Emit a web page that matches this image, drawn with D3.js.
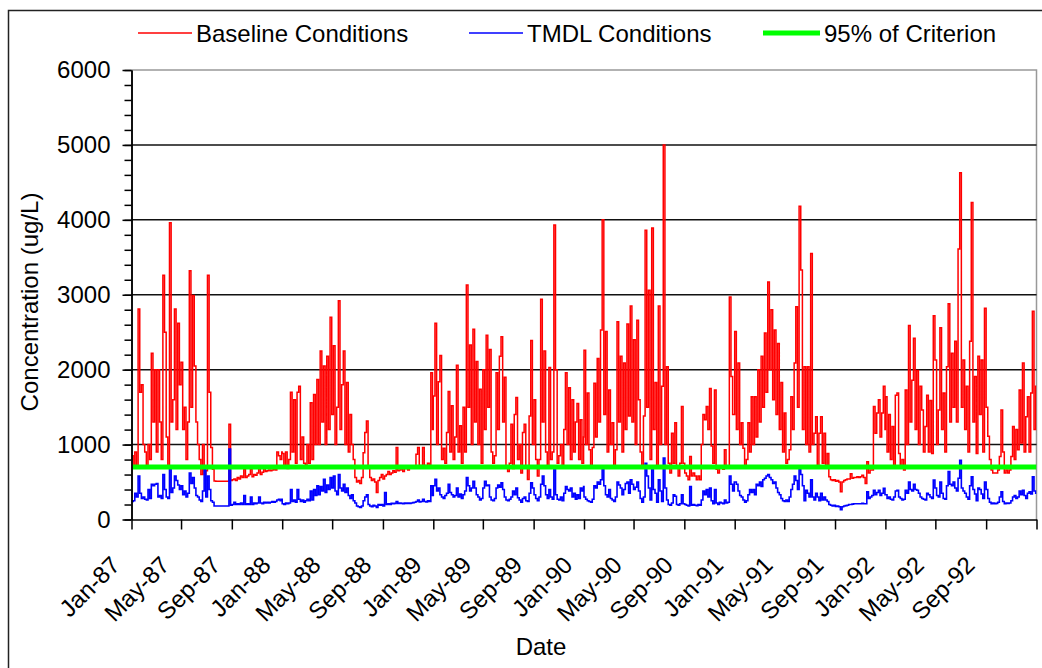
<!DOCTYPE html>
<html>
<head>
<meta charset="utf-8">
<script src="https://cdn.jsdelivr.net/npm/d3@7"></script>
<style>
  body { margin: 0; background: #fff; }
  text { font-family: "Liberation Sans", Arial, sans-serif; fill: #000; }
</style>
</head>
<body>
<svg id="chart" width="1042" height="668"></svg>
<script>
// Values sampled every 4 days from Jan 1 of each year (ug/L)
var stepDays = 4;
var years = [1987, 1988, 1989, 1990, 1991, 1992];

var baseline1987 = [850,700,900,700,2810,1700,1800,1000,900,700,1000,800,2220,1300,2000,900,2000,1300,800,3260,
  2500,1100,700,3960,1300,1600,2810,1200,2620,1800,2100,1200,1500,800,1300,3320,1500,2990,2050,1300,
  1000,800,600,1000,600,650,3260,1700,960,670,513,510,510,510,510,510,510,510,510,1270,
  520,530,540,520,560,540,580,560,670,560,580,600,670,570,600,590,620,680,600,630,
  690,640,650,660,650,660,670,660,900,850,800,900];
var baseline1988 = [880,700,900,680,800,1700,900,1600,750,1700,1780,800,1100,750,700,1000,750,1560,800,1670,
  1000,1870,1000,2250,1300,2050,1000,2180,1200,2700,1400,2320,1000,1500,2920,1200,1800,2250,1000,1830,
  900,1400,1000,800,560,500,520,480,560,890,1160,1315,700,560,520,540,500,360,520,560,
  600,540,580,600,640,600,620,650,630,960,650,660,680,640,700,680,660,700,690,700,
  700,870,960,720,700,960,720,700,750,700,1960,1200];
var baseline1989 = [1650,2620,1000,1840,2190,800,950,750,1160,1710,900,1520,800,1100,2060,900,1250,750,1500,900,
  3130,1500,2330,1000,2540,1300,2110,1000,1740,750,2000,1200,2460,1500,2270,900,750,850,1960,1200,
  2180,2440,1300,1900,700,640,750,1270,680,1400,1630,800,1000,620,1160,1270,700,535,1380,2390,
  1000,1600,800,580,800,2940,1300,2250,900,700,2030,800,900,3930,2000,750,850,1000,700,1200,
  1960,1000,1760,800,1600,900,1300,1550,800,1330,750,1100];
var baseline1990 = [2260,1000,1690,930,700,960,1820,1100,2150,1300,2530,4000,1400,2510,900,1730,1000,1290,700,930,
  2640,1300,2180,900,2090,1200,2610,1380,2850,1300,2400,1000,2660,1600,900,700,1380,3860,1500,3060,
  800,3890,1200,1830,700,2850,1000,1780,5000,1000,2040,750,620,1150,750,1290,700,580,750,1510,
  750,620,580,530,840,580,620,580,530,580,530,1000,1400,1330,1510,1200,1750,980,750,1730,
  670,620,700,700,670,930,700,700,2970,1910,1400,1400];
var baseline1991 = [2510,1200,2090,1000,1290,950,700,800,1290,900,1640,1000,1640,1100,2000,1300,2180,1500,2490,1700,
  3170,2000,2800,1600,2530,1400,2350,1200,1830,900,1420,750,800,930,1640,1200,2090,2840,1500,4180,
  3330,1200,2040,1000,2040,900,3550,1000,1150,1370,700,1150,1370,750,1150,700,880,570,530,520,
  530,510,520,500,370,500,520,530,540,540,610,550,560,560,570,560,570,590,560,480,
  770,620,660,660,1510,1150,1420,1600,1100,1420,1780,1200];
var baseline1992 = [1640,900,1400,800,1240,700,1660,1690,880,700,800,660,1730,1000,2590,1300,1860,2420,1200,1990,
  1000,1780,1460,900,1240,1660,900,1590,880,2720,2130,1000,1460,2560,1200,1690,900,2040,2880,1300,
  2220,1500,2380,1300,3610,4630,1500,2130,1200,1780,900,2380,4230,1300,1910,880,2180,1400,2130,900,
  2820,1500,1110,800,660,620,620,620,660,840,1460,900,620,660,620,660,840,1240,800,1200,
  930,1730,1020,2090,900,1370,1640,900,1690,2780,1200,1780];

var tmdl1987 = [240,250,350,300,580,350,280,300,270,260,400,280,470,450,470,480,300,320,280,600,
  400,300,280,670,360,420,580,520,460,400,450,330,380,300,350,620,480,560,420,320,
  300,260,240,380,670,300,580,400,250,230,180,180,180,180,180,180,180,180,180,940,
  190,200,230,200,210,200,220,200,320,200,210,200,300,200,220,210,220,300,220,210,
  230,220,230,220,230,240,230,240,260,270,250,270];
var tmdl1988 = [210,200,220,210,220,400,240,260,230,400,270,240,260,230,250,270,250,380,260,400,
  320,450,330,440,380,535,360,460,400,560,420,580,380,330,600,420,380,470,360,420,
  320,280,330,250,220,180,170,160,180,250,300,330,200,180,170,190,180,160,200,190,
  200,180,360,200,210,200,215,210,215,240,215,220,215,210,220,215,220,215,220,225,
  230,240,260,235,240,270,240,235,250,240,450,320];
var tmdl1989 = [450,535,380,420,330,300,280,320,350,470,360,330,300,320,420,300,340,280,330,380,
  560,450,380,420,510,420,330,300,260,280,420,510,450,460,300,260,250,280,420,460,
  430,490,400,300,260,250,270,300,380,330,420,290,260,230,280,300,250,240,350,490,
  420,330,280,250,300,470,580,450,330,280,400,300,270,670,330,270,260,300,250,350,
  440,400,380,420,300,350,270,330,280,420,380,440];
var tmdl1990 = [300,270,250,240,230,270,450,420,500,470,530,670,450,330,300,400,280,260,240,300,
  500,460,420,330,400,480,500,350,530,470,400,430,500,380,280,230,300,750,580,420,
  260,670,400,350,230,530,380,240,820,420,260,200,190,220,330,310,200,190,210,330,
  210,200,190,180,440,190,200,190,185,200,190,260,380,330,400,300,420,250,210,400,
  220,200,230,220,210,260,220,230,580,470,380,500];
var tmdl1991 = [500,470,380,320,300,260,230,250,330,400,360,400,330,470,450,500,440,530,550,580,
  600,560,530,480,500,420,360,330,280,250,240,260,240,300,400,470,580,520,400,670,
  600,450,250,390,350,300,530,300,260,350,300,250,350,260,300,260,240,200,190,180,
  190,175,180,170,130,170,180,185,190,200,200,205,210,210,210,210,210,215,210,210,
  370,280,300,320,390,330,360,390,320,350,415,330];
var tmdl1992 = [330,280,300,270,260,300,380,390,300,280,260,270,390,350,500,400,380,470,400,390,
  350,300,280,270,260,350,330,300,280,525,420,320,300,500,350,280,270,450,640,470,
  450,500,420,380,550,790,420,380,350,300,270,450,570,400,340,250,420,400,340,280,
  500,400,280,230,210,220,210,215,230,300,370,240,210,220,215,220,250,300,320,280,
  300,380,330,390,320,280,350,370,340,570,380,350];

var criterionLevel = 700;
var yMajorTicks = [0, 1000, 2000, 3000, 4000, 5000, 6000];
var legendNames = ["Baseline Conditions", "TMDL Conditions", "95% of Criterion"];
var legendColors = ["#ff0000", "#0000ff", "#00ff00"];

var baselineByYear = [baseline1987, baseline1988, baseline1989, baseline1990, baseline1991, baseline1992];
var tmdlByYear = [tmdl1987, tmdl1988, tmdl1989, tmdl1990, tmdl1991, tmdl1992];

var startDate = new Date(Date.UTC(1987, 0, 1));
var endDate = new Date(Date.UTC(1993, 0, 1));

// turn the yearly arrays into date/value points
function toPoints(byYear) {
  var pts = [];
  byYear.forEach(function(vals, k) {
    vals.forEach(function(v, i) {
      pts.push({date: new Date(Date.UTC(years[k], 0, 1 + i * stepDays)), value: v});
    });
  });
  pts.push({date: endDate, value: pts[pts.length - 1].value});
  return pts;
}
var baseline = toPoints(baselineByYear);
var tmdl = toPoints(tmdlByYear);

var svg = d3.select('#chart');
var plotLeft = 131.5, plotRight = 1036.5, plotTop = 70, plotBottom = 519.5;

var x = d3.scaleUtc().domain([startDate, endDate]).range([plotLeft, plotRight]);
var y = d3.scaleLinear().domain([0, 6000]).range([plotBottom, plotTop]);

// outer frame
svg.append('rect')
  .attr('x', 8.5).attr('y', 10.5).attr('width', 1045).attr('height', 670)
  .attr('fill', 'none').attr('stroke', '#222').attr('stroke-width', 1.5);

// plot border (grey top and right)
svg.append('path')
  .attr('d', `M${plotLeft},${plotTop}H${plotRight}V${plotBottom}`)
  .attr('fill', 'none').attr('stroke', '#999').attr('stroke-width', 1.5);

// horizontal gridlines
svg.append('g').selectAll('line')
  .data(yMajorTicks.filter(function(d) { return d > 0 && d < 6000; }))
  .enter().append('line')
  .attr('x1', plotLeft).attr('x2', plotRight)
  .attr('y1', function(d) { return y(d); }).attr('y2', function(d) { return y(d); })
  .attr('stroke', '#111').attr('stroke-width', 1.5);

// series
var clip = svg.append('clipPath').attr('id', 'plotclip');
clip.append('rect').attr('x', plotLeft).attr('y', plotTop)
  .attr('width', plotRight - plotLeft).attr('height', plotBottom - plotTop);

var line = d3.line()
  .x(function(d) { return x(d.date); })
  .y(function(d) { return y(d.value); })
  .curve(d3.curveStepAfter);

var plot = svg.append('g').attr('clip-path', 'url(#plotclip)');
plot.append('path').datum(baseline)
  .attr('d', line).attr('fill', 'none').attr('stroke', legendColors[0]).attr('stroke-width', 1.5);
plot.append('path').datum(tmdl)
  .attr('d', line).attr('fill', 'none').attr('stroke', legendColors[1]).attr('stroke-width', 1.6);
plot.append('line')
  .attr('x1', plotLeft).attr('x2', plotRight)
  .attr('y1', y(criterionLevel)).attr('y2', y(criterionLevel))
  .attr('stroke', legendColors[2]).attr('stroke-width', 5);

// y axis: minor ticks then major ticks with labels
var yMinor = svg.append('g').attr('transform', `translate(${plotLeft},0)`)
  .call(d3.axisLeft(y).tickValues(d3.range(0, 6001, 200)).tickSize(7).tickSizeOuter(0).tickFormat(''));
var yAxis = svg.append('g').attr('transform', `translate(${plotLeft},0)`)
  .call(d3.axisLeft(y).tickValues(yMajorTicks).tickSize(9).tickSizeOuter(0).tickPadding(12).tickFormat(d3.format('d')));
[yMinor, yAxis].forEach(function(g) {
  g.selectAll('line').attr('stroke', '#000').attr('stroke-width', 1.5);
  g.select('.domain').attr('stroke', '#000').attr('stroke-width', 1.5);
});
yAxis.selectAll('text').style('font-size', '24px').attr('fill', '#000')
  .style('font-family', '"Liberation Sans", Arial, sans-serif');

// x axis: ticks every 4 months
var xTicks = x.ticks(d3.utcMonth.every(4));
var xAxis = svg.append('g').attr('transform', `translate(0,${plotBottom})`)
  .call(d3.axisBottom(x).tickValues(xTicks).tickSize(10).tickSizeOuter(0).tickFormat(''));
xAxis.selectAll('line').attr('stroke', '#000').attr('stroke-width', 1.5);
xAxis.select('.domain').attr('stroke', '#000').attr('stroke-width', 1.5);

var fmt = d3.utcFormat('%b-%y');
svg.append('g').selectAll('text')
  .data(xTicks.slice(0, -1))
  .enter().append('text')
  .attr('transform', function(d) { return `translate(${x(d) - 10},${plotBottom + 47}) rotate(-45)`; })
  .attr('text-anchor', 'end')
  .style('font-size', '24px')
  .text(function(d) { return fmt(d); });

// axis titles
svg.append('text')
  .attr('transform', `translate(38,302) rotate(-90)`)
  .attr('text-anchor', 'middle')
  .style('font-size', '24px')
  .text('Concentration (ug/L)');
svg.append('text')
  .attr('x', 541).attr('y', 655)
  .attr('text-anchor', 'middle')
  .style('font-size', '24px')
  .text('Date');

// legend
var legendX = [138, 469, 763];
var legend = svg.append('g').selectAll('g')
  .data(legendNames).enter().append('g')
  .attr('transform', function(d, i) { return `translate(${legendX[i]},33)`; });
legend.append('line')
  .attr('x1', 0).attr('x2', function(d, i) { return i == 2 ? 57 : 54; })
  .attr('stroke', function(d, i) { return legendColors[i]; })
  .attr('stroke-width', function(d, i) { return i == 2 ? 5 : 1.5; });
legend.append('text')
  .attr('x', function(d, i) { return i == 2 ? 61 : 58; })
  .attr('y', 8.5)
  .style('font-size', '24px')
  .text(function(d) { return d; });
</script>
</body>
</html>
